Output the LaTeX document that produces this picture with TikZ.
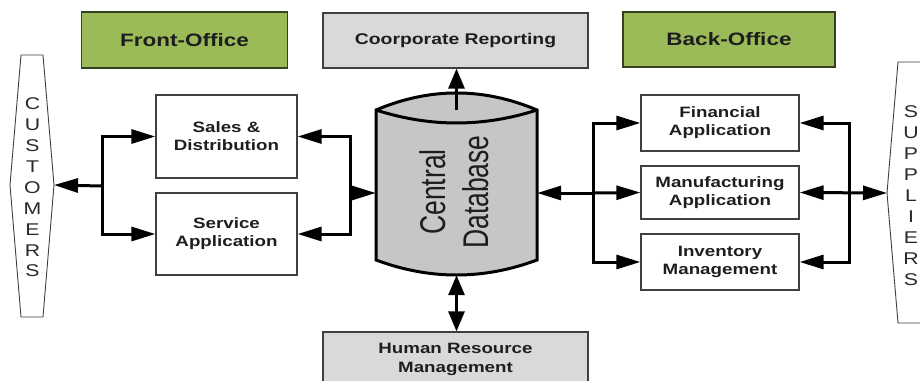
\documentclass[tikz,border=0pt]{standalone}
\usepackage{fontspec}
\setmainfont{Liberation Sans}[FakeStretch=1.25]
\newfontfamily\dbfont{Liberation Sans}
\usetikzlibrary{arrows.meta}
\definecolor{ogreen}{HTML}{9BBB59}
\definecolor{gfill}{HTML}{D9D9D9}
\definecolor{cfill}{HTML}{C6C6C6}
\definecolor{edge}{HTML}{3F3F3F}
\definecolor{txt}{HTML}{1E1E1E}
\definecolor{ltxt}{HTML}{2A2A2A}
\tikzset{
  base/.style={draw=edge, line width=1.3pt, inner sep=0pt, align=center, text=txt,
    font=\bfseries\fontsize{15}{18}\selectfont},
  office/.style={base, fill=ogreen, draw=black!65!ogreen, font=\bfseries\fontsize{18}{21}\selectfont},
  greybox/.style={base, fill=gfill, font=\bfseries\fontsize{15.5}{19}\selectfont},
  app/.style={base, fill=white},
  conn/.style={line width=3pt, draw=black, line join=miter},
  harr/.style={-{Triangle[length=24pt,width=14pt]}},
  hboth/.style={{Triangle[length=24pt,width=14pt]}-{Triangle[length=24pt,width=14pt]}},
  varr/.style={-{Triangle[length=20pt,width=16pt]}},
  vboth/.style={{Triangle[length=20pt,width=16pt]}-{Triangle[length=20pt,width=16pt]}},
  letters/.style={align=center, inner sep=0pt, text=ltxt},
  partner/.style={draw=edge, line width=0.9pt, fill=white}
}
\begin{document}
\begin{tikzpicture}[x=1pt,y=-1pt]
\useasboundingbox (0,0) rectangle (920,380);
\fill[white] (0,0) rectangle (920,380);

% header boxes
\node[office, minimum width=206pt, minimum height=56pt] (front) at (184.5,40) {Front-Office};
\node[greybox, minimum width=265pt, minimum height=55pt] (corp) at (455.5,40.5) {Coorporate Reporting};
\node[office, minimum width=212pt, minimum height=55pt] (back) at (729,39.5) {Back-Office};

% front office applications
\node[app, minimum width=141pt, minimum height=83pt] (sales) at (226.5,136.5) {Sales \&\\Distribution};
\node[app, minimum width=141pt, minimum height=82pt] (service) at (226.5,234) {Service\\Application};

% back office applications
\node[app, minimum width=158pt, minimum height=56pt] (fin) at (720,123) {Financial\\Application};
\node[app, minimum width=158pt, minimum height=53pt] (man) at (720,192.5) {Manufacturing\\Application};
\node[app, minimum width=158pt, minimum height=56pt] (inv) at (720,262) {Inventory\\Management};

% HR box
\node[greybox, minimum width=265pt, minimum height=54pt, font=\bfseries\fontsize{15}{19}\selectfont] (hrm) at (455.5,359) {Human Resource\\Management};

% customers / suppliers
\draw[partner] (21,55) -- (43,55) -- (54,185) -- (43,317) -- (21,317) -- (10,185) -- cycle;
\coordinate (cust) at (54,185);
\node[letters, font=\fontsize{17}{20.9}\selectfont] (custtext) at (32.5,187.5) {C\\U\\S\\T\\O\\M\\E\\R\\S};
\draw[partner] (898,62) -- (941,62) -- (952,193) -- (941,323) -- (898,323) -- (887,193) -- cycle;
\coordinate (supp) at (887,193);
\node[letters, font=\fontsize{17}{21}\selectfont] (supptext) at (911,196) {S\\U\\P\\P\\L\\I\\E\\R\\S};

% central database cylinder
\draw[line width=3pt, fill=cfill] (376,110) .. controls (429.7,87.3) and (483.3,87.3) .. (537,110)
  -- (537,260) .. controls (483.3,280) and (429.7,280) .. (376,260) -- cycle;
\draw[line width=3pt] (376,110) .. controls (429.7,127.3) and (483.3,127.3) .. (537,110);
\node[minimum width=161pt, minimum height=182pt, inner sep=0pt] (db) at (456.5,184) {};
\coordinate (dbtop) at (456.5,110);
\node[rotate=90, anchor=base, inner sep=0pt, text=txt, font=\dbfont\fontsize{26.5}{32}\selectfont] (dbl1) at (445,192) {\scalebox{1}[1.35]{Central}};
\node[rotate=90, anchor=base, inner sep=0pt, text=txt, font=\dbfont\fontsize{26.5}{32}\selectfont] (dbl2) at (488,192) {\scalebox{1}[1.35]{Database}};

% junction coordinates
\coordinate (lj) at (102,186);
\coordinate (mj) at (350,193);
\coordinate (rj) at (593,193);
\coordinate (sj) at (849,193);

% left connectors
\draw[conn, harr] (lj) |- (sales.west);
\draw[conn, harr] (lj) |- (service.west);
\draw[conn, harr] (lj) -- (cust);
\draw[conn, harr] (mj) |- (sales.east);
\draw[conn, harr] (mj) |- (service.east);
\draw[conn, harr] (mj) -- (db.west |- mj);

% right connectors
\draw[conn, harr] (rj) |- (fin.west);
\draw[conn, harr] (rj) |- (inv.west);
\draw[conn, harr] (rj) -- (man.west);
\draw[conn, harr] (rj) -- (db.east |- rj);
\draw[conn, harr] (sj) |- (fin.east);
\draw[conn, harr] (sj) |- (inv.east);
\draw[conn, hboth] (man.east) -- (supp);

% vertical connectors
\draw[conn, varr] (dbtop) -- (dbtop |- corp.south);
\draw[conn, vboth] (db.south) -- (db.south |- hrm.north);
\end{tikzpicture}
\end{document}
